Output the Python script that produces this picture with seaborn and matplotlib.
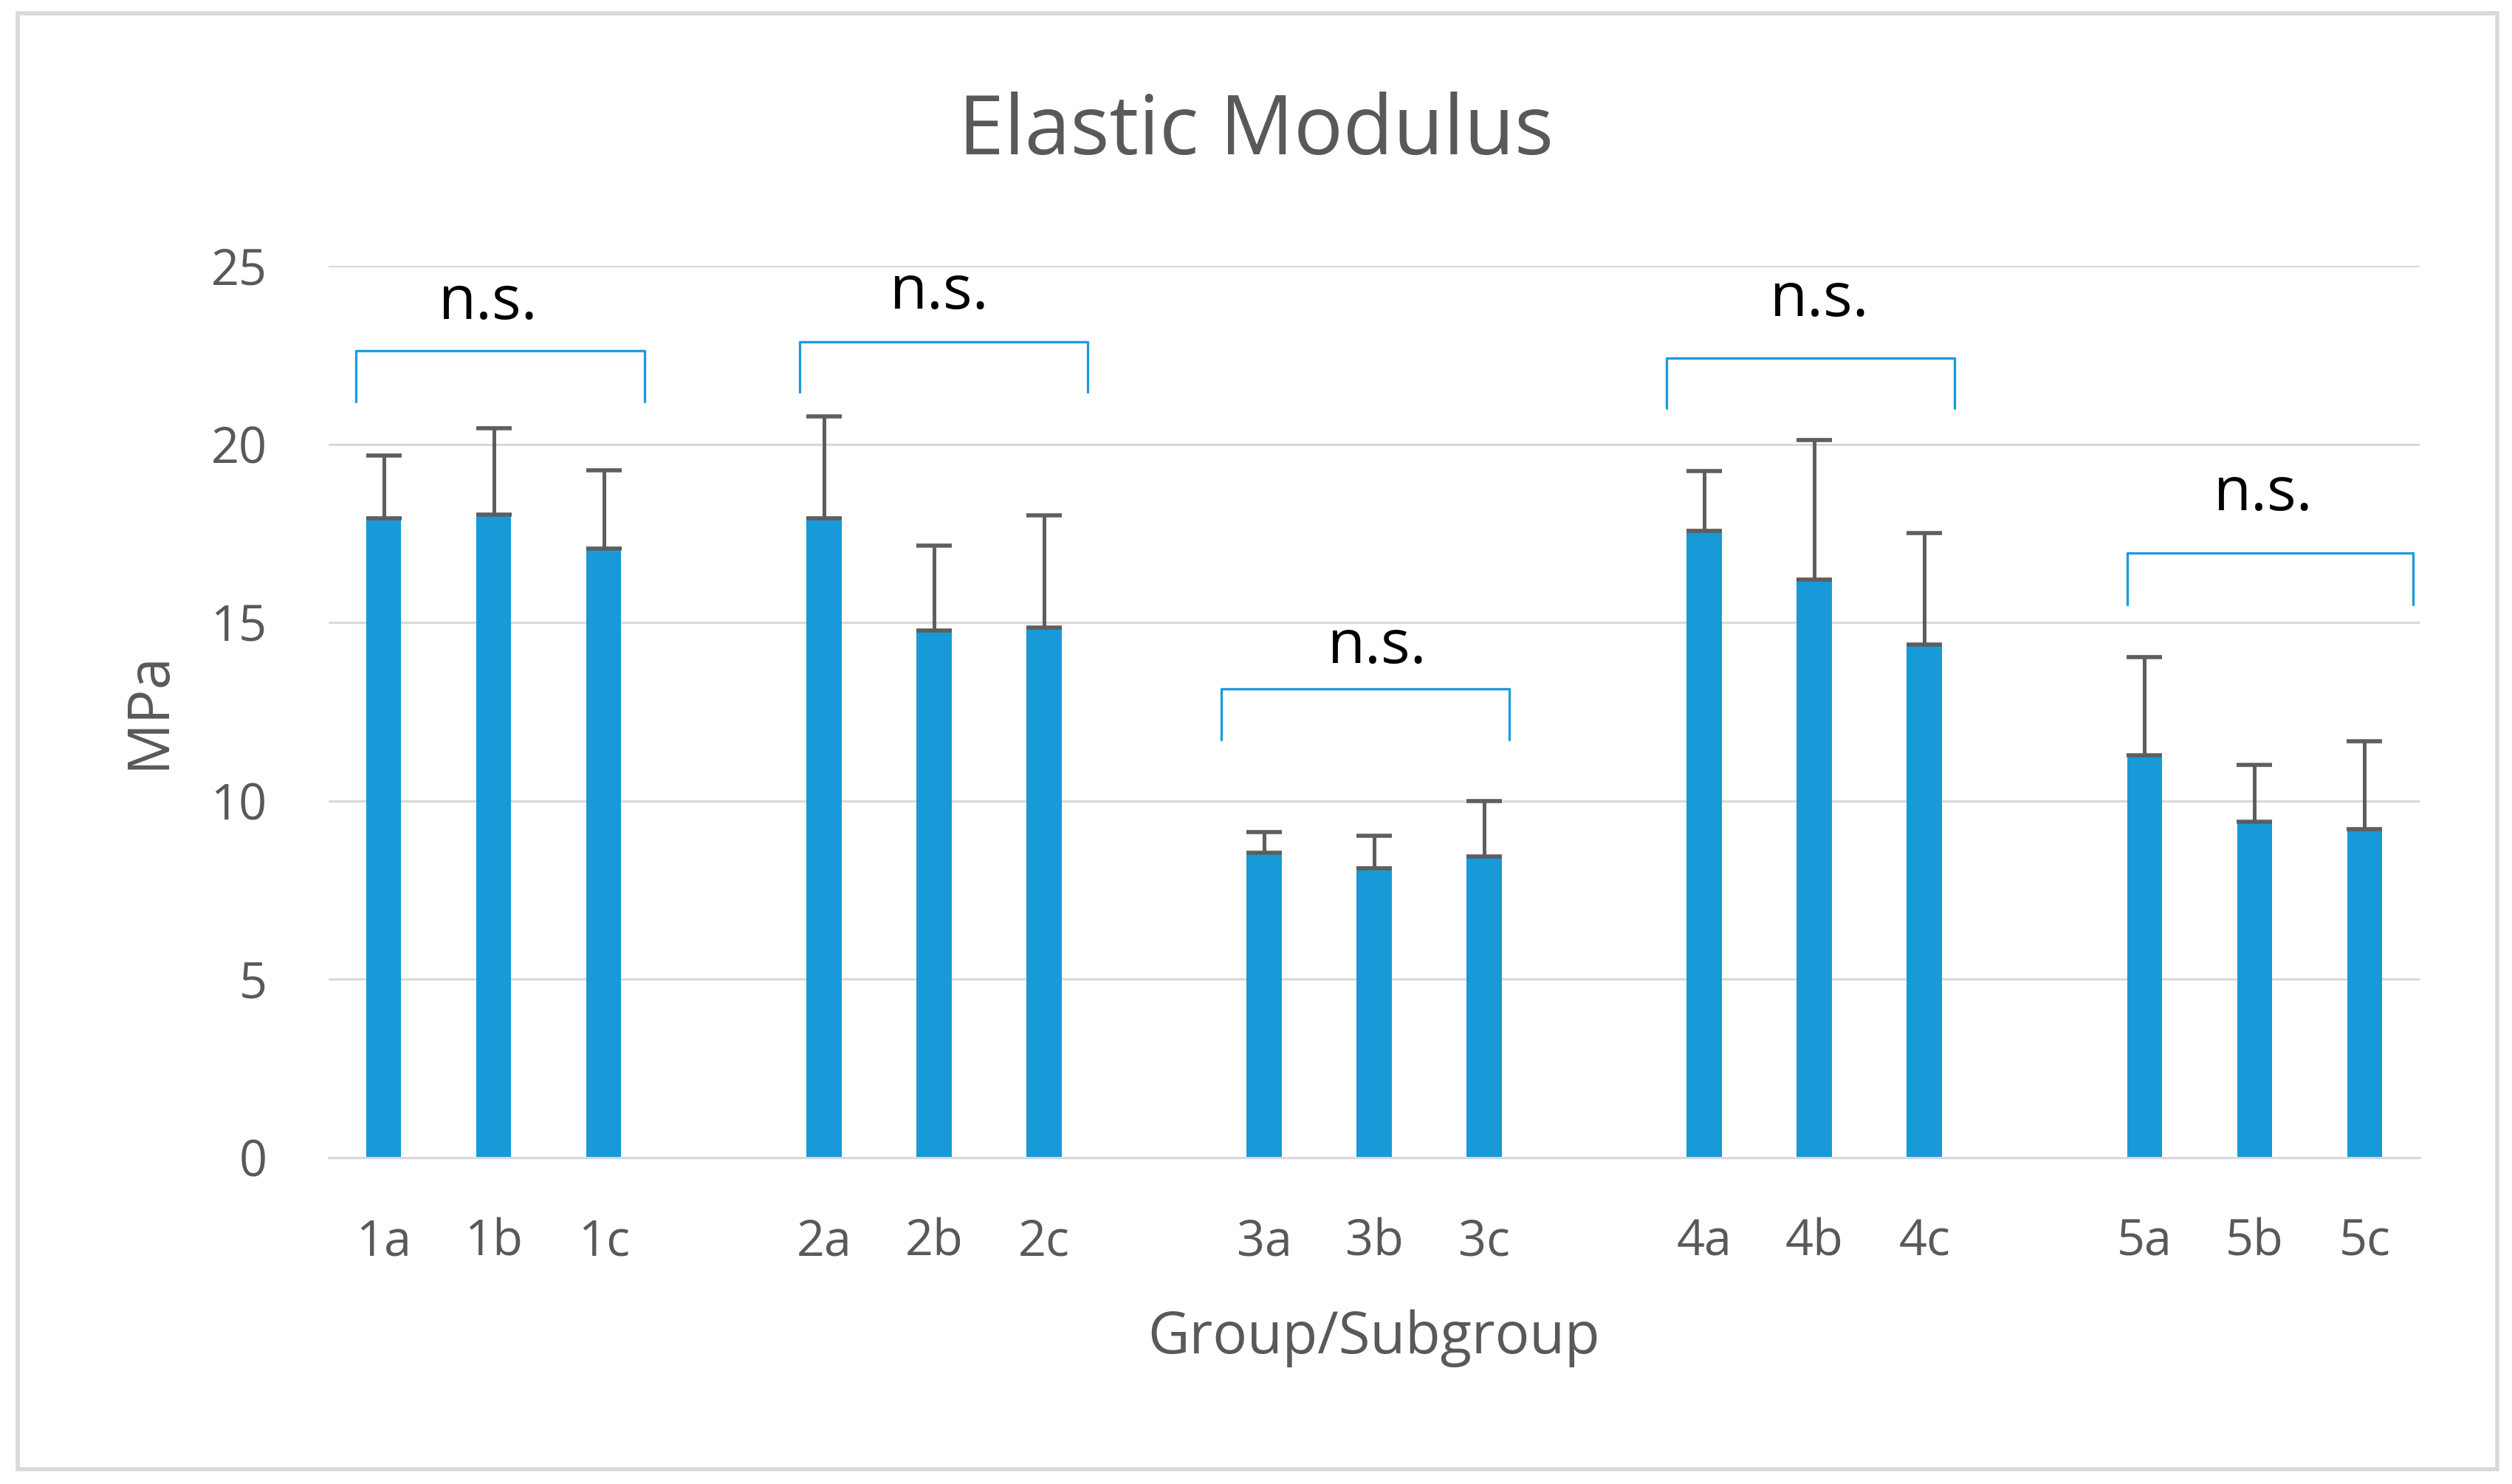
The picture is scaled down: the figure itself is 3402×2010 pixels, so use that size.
import matplotlib
matplotlib.use("Agg")
import matplotlib.pyplot as plt
import seaborn as sns
import pandas as pd
import numpy as np
from matplotlib.patches import Rectangle

# ---- data ----
subgroups = ["1a", "1b", "1c", "2a", "2b", "2c", "3a", "3b", "3c",
             "4a", "4b", "4c", "5a", "5b", "5c"]
means = [17.92, 18.03, 17.08, 17.92, 14.77, 14.85, 8.55, 8.11, 8.45,
         17.57, 16.20, 14.38, 11.28, 9.42, 9.21]
sds = [1.77, 2.41, 2.18, 2.85, 2.39, 3.15, 0.58, 0.92, 1.55,
       1.67, 3.92, 3.12, 2.75, 1.59, 2.46]
# category order with blank spacer slots between groups
order = ["1a", "1b", "1c", " ", "2a", "2b", "2c", "  ", "3a", "3b", "3c",
         "   ", "4a", "4b", "4c", "    ", "5a", "5b", "5c"]
yticks = [0, 5, 10, 15, 20, 25]

# significance brackets (one per group)
bracket_groups = [["1a", "1c"], ["2a", "2c"], ["3a", "3c"], ["4a", "4c"], ["5a", "5c"]]
bracket_top = [22.61, 22.87, 13.15, 22.41, 16.94]
bracket_drop = [1.41, 1.40, 1.43, 1.41, 1.44]
bracket_left_off = [-0.25, -0.22, -0.39, -0.34, -0.16]
bracket_right_off = [0.37, 0.40, 0.23, 0.27, 0.44]
label_text = ["n.s.", "n.s.", "n.s.", "n.s.", "n.s."]
label_y = [23.51, 23.81, 13.87, 23.59, 18.15]
label_x_off = [-0.05, 0.05, 0.03, 0.05, 0.08]

df = pd.DataFrame({"Subgroup": subgroups, "MPa": means, "SD": sds})

# ---- style ----
sns.set_theme(style="white")
plt.rcParams["font.family"] = ["Open Sans", "DejaVu Sans"]

W, H, DPI = 3402, 2010, 200
fig = plt.figure(figsize=(W / DPI, H / DPI), dpi=DPI)
fig.patch.set_facecolor("white")
ax = fig.add_axes([445 / W, 1 - 1568 / H, (3277 - 445) / W, (1568 - 360) / H])

bar_color = "#179AD7"
grey_text = "#595959"
grid_col = "#D9D9D9"

sns.barplot(data=df, x="Subgroup", y="MPa", order=order, color=bar_color,
            width=0.32, errorbar=None, linewidth=0, saturation=1, ax=ax)

# upward-only error bars
xpos = [order.index(s) for s in df["Subgroup"]]
ax.errorbar(xpos, df["MPa"], yerr=[np.zeros(len(df)), df["SD"]], fmt="none",
            ecolor="#5E5E5E", elinewidth=1.8, capsize=8.5, capthick=2.0, zorder=3)

# axes styling
ax.set_ylim(0, 25)
ax.set_xlim(-0.5, len(order) - 0.5)
ax.set_yticks(yticks)
ax.yaxis.grid(True, color=grid_col, linewidth=1.1)
ax.set_axisbelow(True)
for s in ["top", "right", "left"]:
    ax.spines[s].set_visible(False)
ax.spines["bottom"].set_color(grid_col)
ax.spines["bottom"].set_linewidth(1.1)
ax.tick_params(axis="both", length=0, labelsize=24, labelcolor=grey_text)
ax.tick_params(axis="x", pad=29)
ax.tick_params(axis="y", pad=30)
ax.set_xlabel("")
ax.set_ylabel("")

# brackets and labels
for i, (g0, g1) in enumerate(bracket_groups):
    x0 = order.index(g0) + bracket_left_off[i]
    x1 = order.index(g1) + bracket_right_off[i]
    yt = bracket_top[i]
    yb = yt - bracket_drop[i]
    ax.plot([x0, x0, x1, x1], [yb, yt, yt, yb], color="#1F9BDE",
            linewidth=1.2, solid_joinstyle="round", zorder=4)
    xm = (order.index(g0) + order.index(g1)) / 2 + label_x_off[i]
    ax.text(xm, label_y[i], label_text[i], ha="center", va="baseline",
            fontsize=30, color="black", zorder=5)

# titles / labels as figure text
fig.text(0.5, 1 - 180 / H, "Elastic Modulus", ha="center", va="center",
         fontsize=40, color=grey_text)
fig.text((445 + 3277) / 2 / W, 1 - 1812 / H, "Group/Subgroup", ha="center",
         va="center", fontsize=28, color=grey_text)
fig.text(202 / W, 1 - 962 / H, "MPa", ha="center", va="center", rotation=90,
         fontsize=28, color=grey_text)

# chart-area border
fig.patches.append(Rectangle((24 / W, 1 - 1990 / H), (3382 - 24) / W, (1990 - 18) / H,
                             transform=fig.transFigure, fill=False,
                             edgecolor=grid_col, linewidth=2.0))

fig.savefig("out.png", dpi=DPI, facecolor="white")
